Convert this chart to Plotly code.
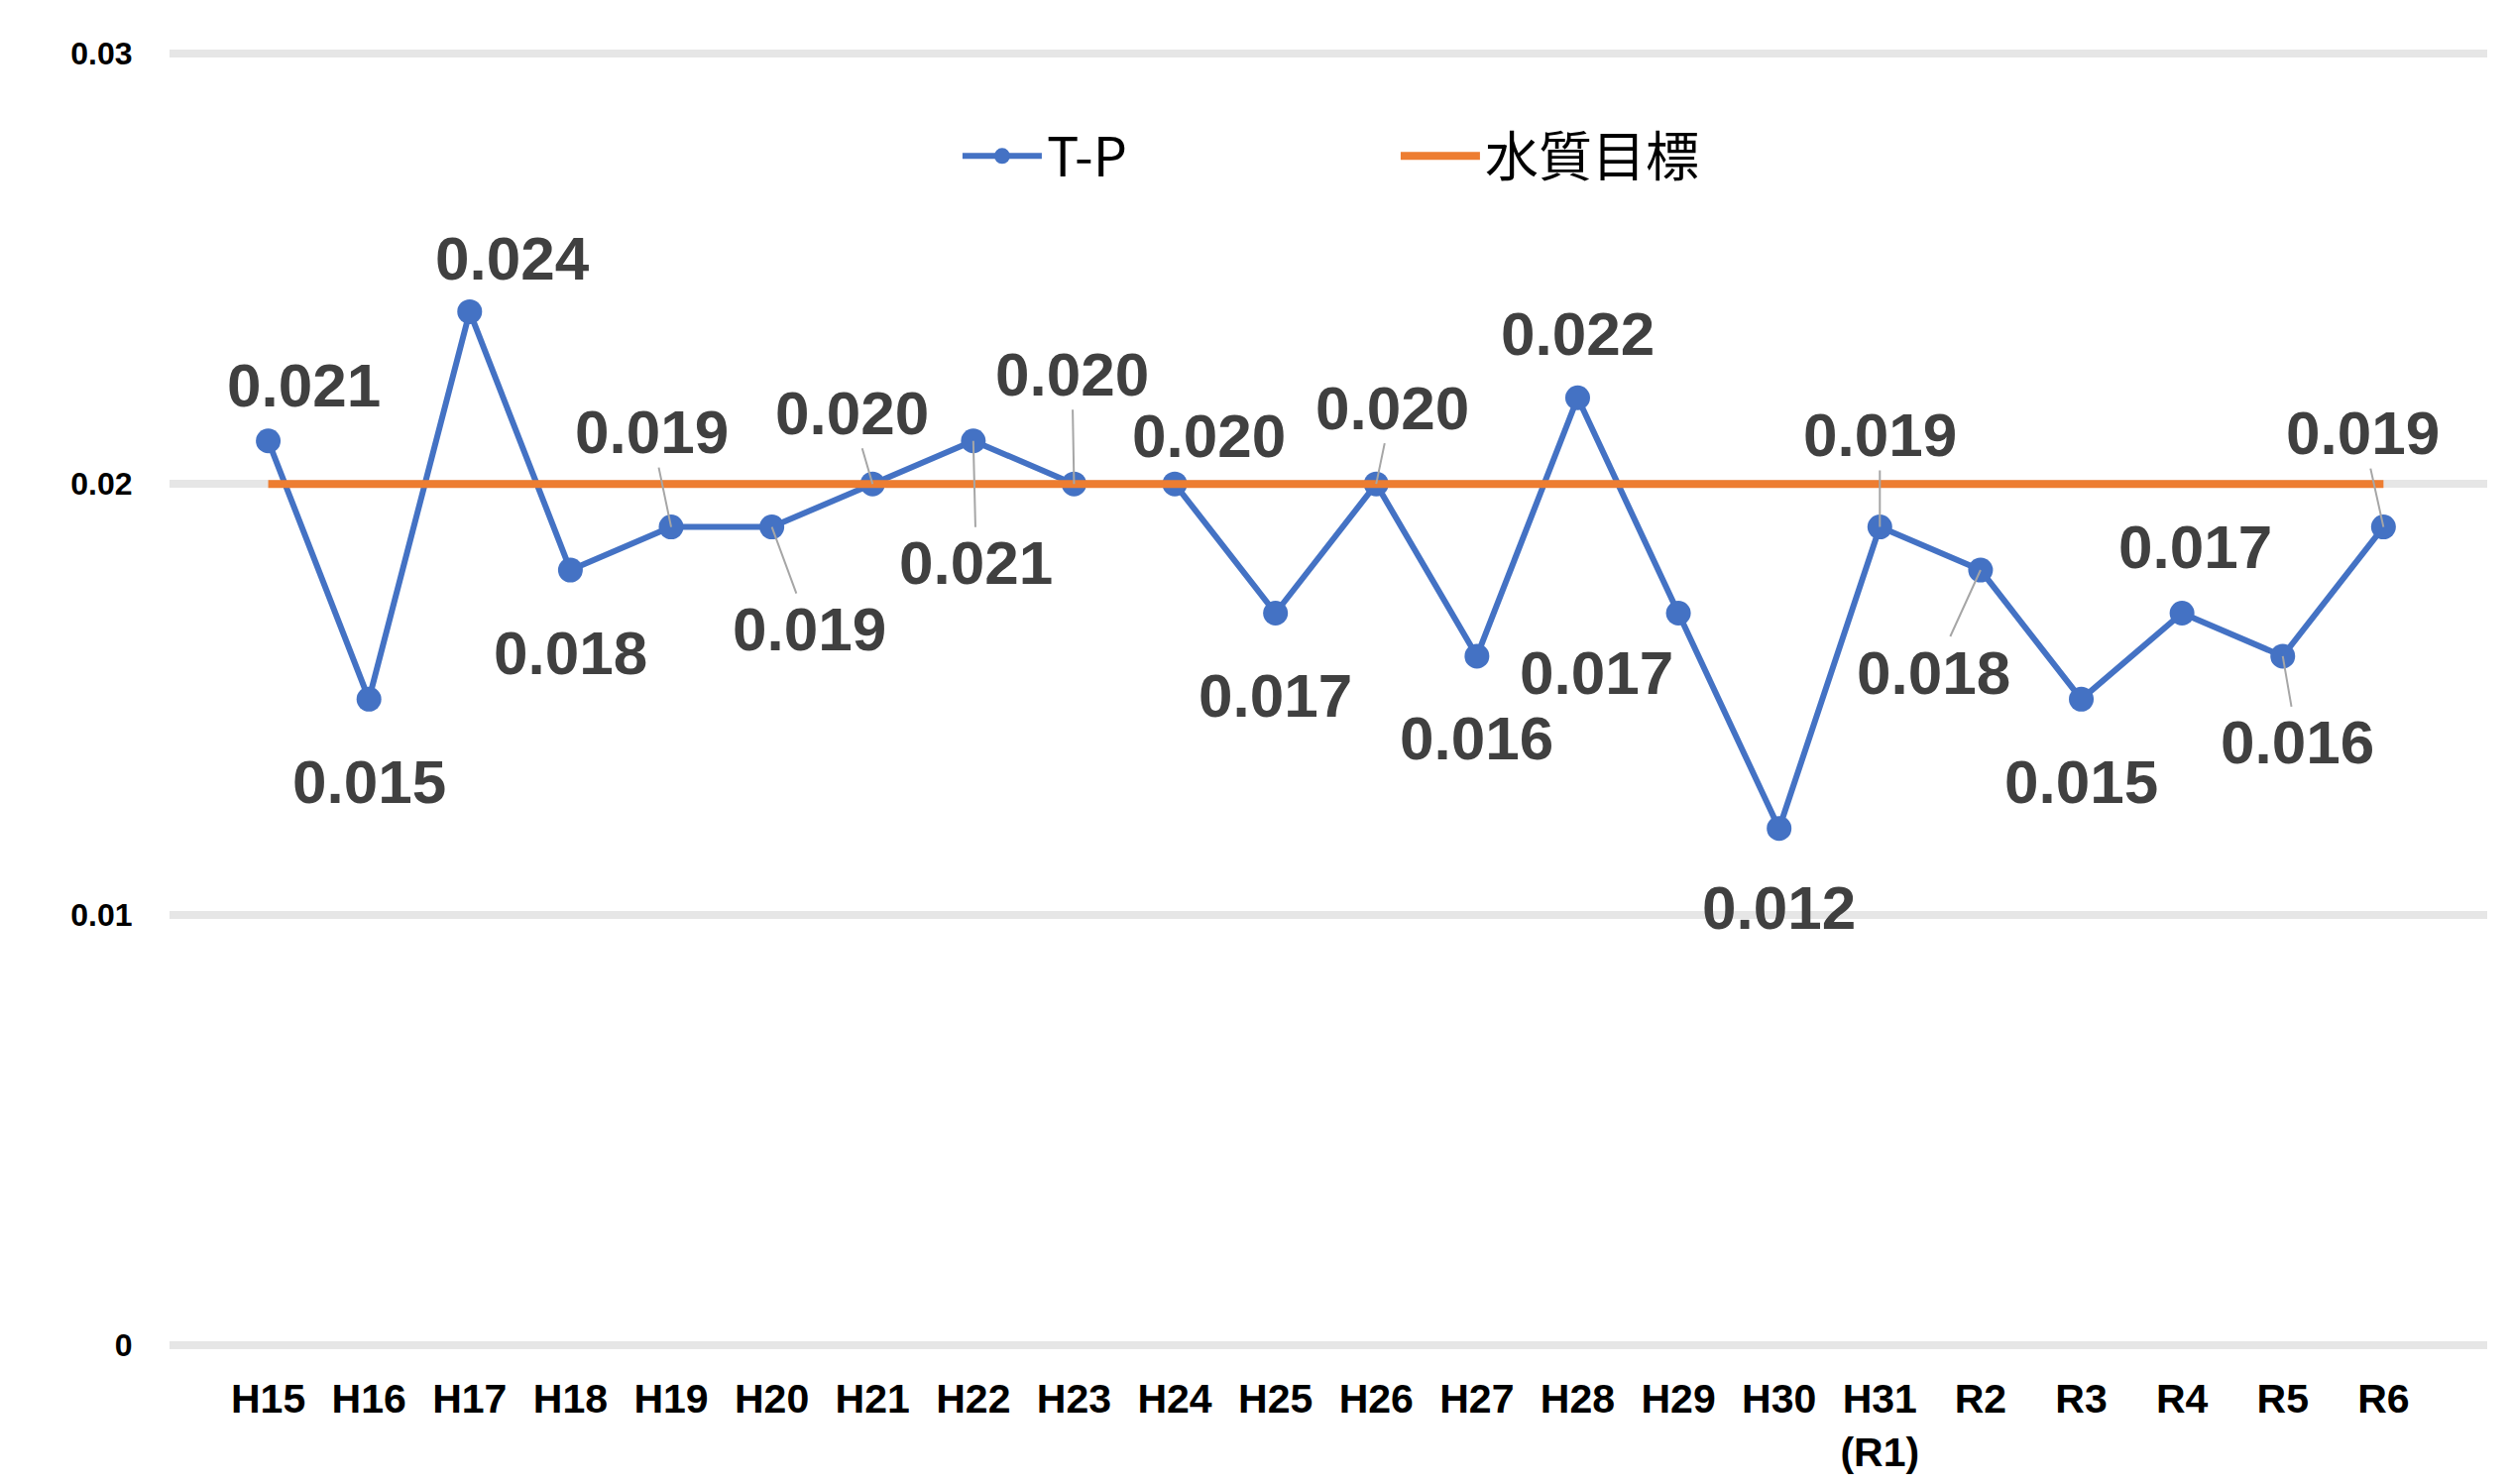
import plotly.graph_objects as go

# 年度別 T-P（全りん）年平均値 と 水質目標
years = ["H15", "H16", "H17", "H18", "H19", "H20", "H21", "H22", "H23", "H24", "H25",
         "H26", "H27", "H28", "H29", "H30", "H31<br>(R1)", "R2", "R3", "R4", "R5", "R6"]
tp = [0.021, 0.015, 0.024, 0.018, 0.019, 0.019, 0.020, 0.021, 0.020, 0.020, 0.017,
      0.020, 0.016, 0.022, 0.017, 0.012, 0.019, 0.018, 0.015, 0.017, 0.016, 0.019]
target = [0.02] * len(years)

# label offsets (px) from each point, and whether Excel drew a leader line
label_dx = [36, 0, 43, 0, -20, 38, -21, 3, -2, 34, 0, 16, 0, 0, -83, 0, 0, -47, 0, 13, 15, -21]
label_dy = [-56, 83, -54, 83, -96, 103, -72, 123, -111, -49, 83, -77, 83, -65, 60, 80, -93, 103, 83, -67, 87, -95]
leader = [0, 0, 0, 0, 1, 1, 1, 1, 1, 0, 0, 1, 0, 0, 0, 0, 1, 1, 0, 0, 1, 1]

BLUE = "#4472C4"
ORANGE = "#ED7D31"
FONT = "Liberation Sans, Arial, sans-serif"
CJK = "Noto Sans CJK JP, Noto Sans CJK TC, sans-serif"

fig = go.Figure()
fig.add_trace(go.Scatter(
    x=years, y=tp, name="T-P", mode="lines+markers",
    line=dict(color=BLUE, width=6),
    marker=dict(color=BLUE, size=25),
))
fig.add_trace(go.Scatter(
    x=years, y=target, name="水質目標", mode="lines",
    line=dict(color=ORANGE, width=8),
))

for i, (yr, v) in enumerate(zip(years, tp)):
    fig.add_annotation(
        x=yr, y=v, text=f"{v:.3f}",
        showarrow=True, ax=label_dx[i], ay=label_dy[i],
        arrowhead=0, arrowwidth=2, standoff=0,
        arrowcolor="#A6A6A6" if leader[i] else "rgba(0,0,0,0)",
        font=dict(family=FONT, size=62, color="#404040", weight="bold"),
    )

fig.update_layout(
    width=2534, height=1497,
    paper_bgcolor="white", plot_bgcolor="white",
    margin=dict(l=163, r=33, t=44, b=148, autoexpand=False),
    showlegend=True,
    legend=dict(
        orientation="h",
        x=0.340, y=0.919, xanchor="left", yanchor="middle",
        font=dict(family=CJK, size=54, color="#000000"),
        entrywidth=347, entrywidthmode="pixels", itemwidth=80,
        bgcolor="rgba(0,0,0,0)",
    ),
)
fig.update_xaxes(
    type="category", range=[-0.98, 22.03],
    showgrid=False, showline=False, zeroline=False,
    ticks="outside", ticklen=18, tickcolor="rgba(0,0,0,0)",
    tickfont=dict(family=FONT, size=41, color="#000000", weight="bold"),
)
fig.update_yaxes(
    range=[0, 0.03004], tickvals=[0, 0.01, 0.02, 0.03],
    ticktext=["0", "0.01", "0.02", "0.03"],
    showgrid=True, gridcolor="#E6E6E6", gridwidth=8,
    zeroline=True, zerolinecolor="#E6E6E6", zerolinewidth=8,
    showline=False, ticks="outside", ticklen=30, tickcolor="rgba(0,0,0,0)",
    tickfont=dict(family=FONT, size=32, color="#000000", weight="bold"),
)

fig.write_html("out.html")
